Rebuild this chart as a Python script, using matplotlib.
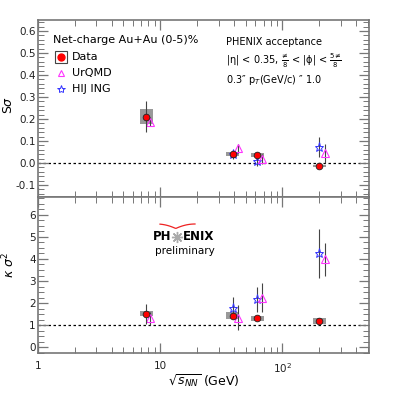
import numpy as np
import matplotlib
matplotlib.use("Agg")
import matplotlib.pyplot as plt
from matplotlib.ticker import FixedLocator, MultipleLocator, NullFormatter
from matplotlib.patches import Rectangle

# ---- data ----
data_x = [7.7, 39.0, 62.4, 200.0]
data_S = [0.21, 0.040, 0.036, -0.014]
data_S_err = [0.07, 0.015, 0.012, 0.008]
data_S_sys = [0.035, 0.008, 0.008, 0.005]
data_K = [1.52, 1.44, 1.31, 1.20]
data_K_err = [0.44, 0.10, 0.08, 0.08]
data_K_sys = [0.11, 0.15, 0.13, 0.13]

urqmd_x = [8.3, 43.6, 68.6, 221.0]
urqmd_S = [0.188, 0.067, 0.018, 0.044]
urqmd_S_err = [0.02, 0.02, 0.022, 0.043]
urqmd_K = [1.32, 1.35, 2.25, 3.98]
urqmd_K_err = [0.30, 0.58, 0.65, 0.75]

hijing_x = [39.0, 62.4, 200.0]
hijing_S = [0.040, 0.009, 0.074]
hijing_S_err = [0.02, 0.023, 0.045]
hijing_K = [1.77, 2.18, 4.25]
hijing_K_err = [0.50, 0.57, 1.10]

xtick_vals = [1, 10, 100]
xtick_labels = ["1", "10", "10$^2$"]

W, H = 415, 395
fig = plt.figure(figsize=(W / 100, H / 100), dpi=100)
L, R = 38 / W, 369 / W
ax1 = fig.add_axes([L, 1 - 197 / H, R - L, (197 - 20) / H])
ax2 = fig.add_axes([L, 1 - 353 / H, R - L, (353 - 197) / H])

spine_c = "#777777"
fs = 8

def style(ax):
    ax.set_xscale("log")
    ax.set_xlim(1, 510)
    for s in ax.spines.values():
        s.set_color(spine_c)
        s.set_linewidth(1.2)
    ax.tick_params(which="both", direction="in", top=True, right=True,
                   color=spine_c, labelsize=7.5, labelcolor="#222222")
    ax.tick_params(which="major", length=7, width=0.9)
    ax.tick_params(which="minor", length=4, width=0.7)
    ax.tick_params(axis="y", pad=1.5)
    ax.xaxis.set_major_locator(FixedLocator(xtick_vals))
    ax.xaxis.set_minor_locator(FixedLocator([m * d for d in (1, 10, 100) for m in range(2, 10)]))
    ax.xaxis.set_minor_formatter(NullFormatter())

def sysboxes(ax, xs, ys, hs):
    f = 10 ** 0.055
    for x, y, h in zip(xs, ys, hs):
        ax.add_patch(Rectangle((x / f, y - h), x * f - x / f, 2 * h,
                               facecolor="#999999", edgecolor="none", zorder=2))

ekw = dict(ecolor="#444444", elinewidth=0.8, capsize=0, linestyle="none")

for ax, dy, de, ds, uy, ue, hy, he in [
    (ax1, data_S, data_S_err, data_S_sys, urqmd_S, urqmd_S_err, hijing_S, hijing_S_err),
    (ax2, data_K, data_K_err, data_K_sys, urqmd_K, urqmd_K_err, hijing_K, hijing_K_err),
]:
    style(ax)
    sysboxes(ax, data_x, dy, ds)
    ax.errorbar(hijing_x, hy, yerr=he, marker="*", ms=6.5, mfc="none", mec="#3333ff",
                mew=0.7, zorder=4, **ekw)
    ax.errorbar(urqmd_x, uy, yerr=ue, marker="^", ms=5.5, mfc="none", mec="#ff33ff",
                mew=0.8, zorder=4, **ekw)
    ax.errorbar(data_x, dy, yerr=de, marker="o", ms=4.8, mfc="#ff0000", mec="#222222",
                mew=0.6, zorder=5, **ekw)

ax1.set_ylim(-0.155, 0.65)
ax1.yaxis.set_minor_locator(MultipleLocator(0.02))
ax1.set_yticks([-0.1, 0.0, 0.1, 0.2, 0.3, 0.4, 0.5, 0.6])
ax1.set_yticklabels(["-0.1", "0.0", "0.1", "0.2", "0.3", "0.4", "0.5", "0.6"])
ax1.axhline(0, color="black", ls=(0, (2, 2)), lw=0.9, zorder=1)
ax1.tick_params(axis="x", labelbottom=False)

ax2.set_ylim(-0.25, 6.8)
ax2.yaxis.set_major_locator(MultipleLocator(1))
ax2.yaxis.set_minor_locator(MultipleLocator(0.25))
ax2.axhline(1, color="black", ls=(0, (2, 2)), lw=0.9, zorder=1)
ax2.set_xticklabels(xtick_labels)
ax2.tick_params(axis="x", pad=6)

def fx(px):
    return px / W

def fy(py):
    return 1 - py / H

# axis labels
fig.text(fx(9), fy(105), "S$\\sigma$", rotation=90, ha="center", va="center", fontsize=9)
fig.text(fx(9), fy(265), "$\\kappa$ $\\sigma^2$", rotation=90, ha="center", va="center", fontsize=9)
fig.text(fx(204), fy(381), "$\\sqrt{s_{NN}}$ (GeV)", ha="center", va="center", fontsize=9)

# legend
fig.text(fx(53), fy(40), "Net-charge Au+Au (0-5)%", ha="left", va="center", fontsize=fs)
fig.add_artist(Rectangle((fx(55), fy(63)), 12 / W, 12 / H, transform=fig.transFigure,
                         facecolor="white", edgecolor="#444444", lw=0.8))
fig.add_artist(plt.Line2D([fx(61)], [fy(57)], marker="o", ms=5, mfc="#ff0000",
                          mec="#ff0000", transform=fig.transFigure))
fig.text(fx(72), fy(57), "Data", ha="left", va="center", fontsize=fs)
fig.add_artist(plt.Line2D([fx(61)], [fy(73)], marker="^", ms=5, mfc="none",
                          mec="#ff33ff", mew=0.8, transform=fig.transFigure))
fig.text(fx(72), fy(73), "UrQMD", ha="left", va="center", fontsize=fs)
fig.add_artist(plt.Line2D([fx(61)], [fy(89)], marker="*", ms=6, mfc="none",
                          mec="#3333ff", mew=0.7, transform=fig.transFigure))
fig.text(fx(72), fy(89), "HIJ ING", ha="left", va="center", fontsize=fs)

# acceptance text
fig.text(fx(226), fy(42), "PHENIX acceptance", ha="left", va="center", fontsize=7)
fig.text(fx(226), fy(61), "|\u03b7| < 0.35, $\\frac{\u2260}{8}$ < |\u03d5| < $\\frac{5\u2260}{8}$",
         ha="left", va="center", fontsize=7)
fig.text(fx(226), fy(80), "0.3\u2033 p$_T$(GeV/c) \u2033 1.0", ha="left", va="center", fontsize=7)

# PHENIX preliminary logo
fig.text(fx(171), fy(237), "PH", ha="right", va="center", fontsize=8.5, fontweight="bold")
fig.add_artist(plt.Line2D([fx(177)], [fy(237)], marker=(8, 2, 0), ms=8, mec="#aaaaaa",
                          mew=1.0, transform=fig.transFigure))
fig.text(fx(183), fy(237), "ENIX", ha="left", va="center", fontsize=8.5, fontweight="bold")
fig.text(fx(185), fy(251), "preliminary", ha="center", va="center", fontsize=7.5)
t = np.linspace(0, 1, 40)
arc_x = 160 + 35 * t
arc_y = 224 + 4.5 * (1 - np.abs(t - 0.45) / 0.55) ** 2
fig.add_artist(plt.Line2D(fx(arc_x), fy(arc_y), color="#ee2222", lw=0.9,
                          transform=fig.transFigure))

fig.savefig("out.png", dpi=100)
